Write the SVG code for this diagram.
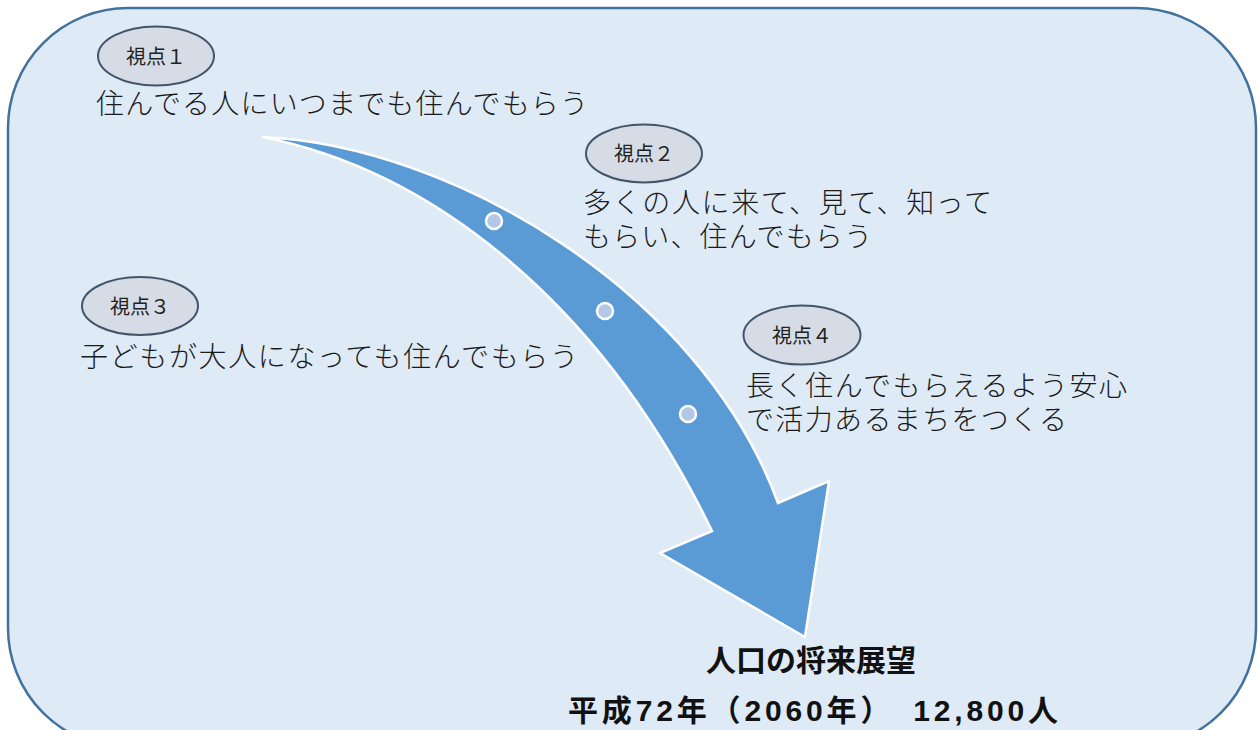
<svg xmlns="http://www.w3.org/2000/svg" width="1258" height="730" viewBox="0 0 1258 730">
<style>
.frame{fill:#DEEAF6;stroke:#41719C;stroke-width:2.5}
.tag{fill:#D6DCE5;stroke:#44546A;stroke-width:2}
.tagt{font-family:"Liberation Sans","Noto Sans CJK JP",sans-serif;font-size:20px;fill:#222;text-anchor:middle}
.body{font-family:"Liberation Sans","Noto Sans CJK JP",sans-serif;font-size:28px;font-weight:300;fill:#1a1a1a}
.title{font-family:"Liberation Sans","Noto Sans CJK JP",sans-serif;font-size:30px;font-weight:bold;fill:#111}
.dot{fill:#B4C7E7;stroke:#fff;stroke-width:2.5}
.arrow{fill:#5B9BD5;stroke:#fff;stroke-width:2.5;stroke-linejoin:miter}
</style>
<rect class="frame" x="8" y="8" width="1248" height="740" rx="120" ry="120"/>
<g id="connectors">
<path class="arrow" d="M262,137 C450,145 700,290 778,503 L829,481 L805,637 L660,553 L712,531 C600,300 430,170 262,137 Z"/>
<circle class="dot" cx="494" cy="221" r="8"/>
<circle class="dot" cx="605" cy="311" r="8"/>
<circle class="dot" cx="688" cy="414" r="8"/>
</g>
<g id="view1">
<ellipse class="tag" cx="156" cy="56" rx="58" ry="29.5"/>
<text class="tagt" x="156" y="64">視点１</text>
<text class="body" x="96" y="114" textLength="492" lengthAdjust="spacing">住んでる人にいつまでも住んでもらう</text>
</g>
<g id="view2">
<ellipse class="tag" cx="644" cy="153.5" rx="58" ry="29"/>
<text class="tagt" x="644" y="161">視点２</text>
<text class="body" x="583" y="213" textLength="409" lengthAdjust="spacing">多くの人に来て、見て、知って</text>
<text class="body" x="583" y="247" textLength="289" lengthAdjust="spacing">もらい、住んでもらう</text>
</g>
<g id="view3">
<ellipse class="tag" cx="140" cy="306" rx="58" ry="29"/>
<text class="tagt" x="140" y="314">視点３</text>
<text class="body" x="80" y="367" textLength="498" lengthAdjust="spacing">子どもが大人になっても住んでもらう</text>
</g>
<g id="view4">
<ellipse class="tag" cx="802" cy="335" rx="58.5" ry="29.5"/>
<text class="tagt" x="802" y="343">視点４</text>
<text class="body" x="746" y="396" textLength="381" lengthAdjust="spacing">長く住んでもらえるよう安心</text>
<text class="body" x="746" y="430" textLength="321" lengthAdjust="spacing">で活力あるまちをつくる</text>
</g>
<g id="outlook">
<text class="title" x="811" y="671" text-anchor="middle">人口の将来展望</text>
<text class="title" x="568" y="721" textLength="490" lengthAdjust="spacing">平成72年（2060年）　12,800人</text>
</g>
</svg>
